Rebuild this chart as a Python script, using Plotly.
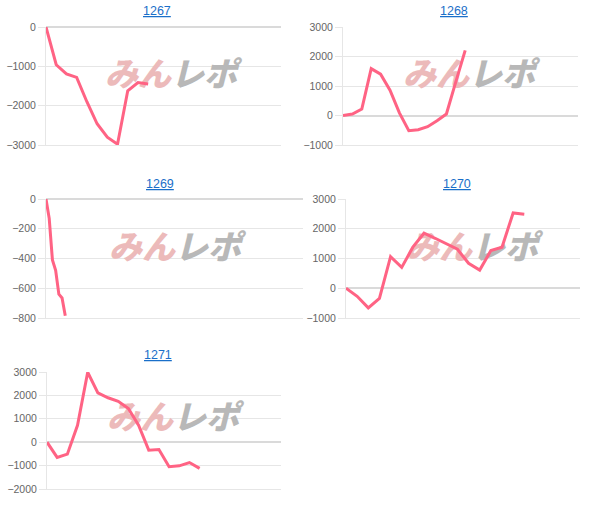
import plotly.graph_objects as go

W, H = 607, 516

# cumulative values per machine
titles = ['1267', '1268', '1269', '1270', '1271']
v1267 = [0, -960, -1190, -1280, -1900, -2460, -2800, -2980, -1620, -1410, -1450]
v1268 = [0, 50, 220, 1590, 1400, 860, 90, -515, -480, -380, -180, 50, 1140, 2210]
v1269 = [0, -130, -410, -480, -640, -665, -785]
v1270 = [0, -270, -660, -345, 1060, 700, 1380, 1850, 1680, 1490, 1310, 840, 610, 1265, 1380, 2530, 2490]
v1271 = [0, -650, -510, 725, 2990, 2110, 1900, 1750, 1440, 725, -340, -310, -1050, -1010, -870, -1120]
series = [v1267, v1268, v1269, v1270, v1271]

y_ranges = [[-3000, 0], [-1000, 3000], [-800, 0], [-1000, 3000], [-2000, 3000]]
y_dticks = [1000, 1000, 200, 1000, 1000]
x_ranges = [[0, 23], [0, 25], [0, 80], [0, 21], [0, 23]]

# plot areas in pixels: left, right, top, bottom
boxes = [(46, 281, 27, 145), (343, 578, 27, 145), (46, 303, 199, 318),
         (346, 580, 199, 318), (47, 281, 372, 489)]
title_pos = [(157, 11), (454, 11), (160, 184), (457, 184), (158, 355)]
logo_pos = [(171, 78), (469, 78), (175, 251), (472, 251), (173, 421)]

LINE = 'rgb(255,99,132)'
GRID = '#e6e6e6'
TICK = '#666666'
LINK = '#1a6fc9'


def px_to_data(px, py, box, xr, yr):
    l, r, t, b = box
    x = xr[0] + (px - l) / (r - l) * (xr[1] - xr[0])
    y = yr[1] - (py - t) / (b - t) * (yr[1] - yr[0])
    return x, y


fig = go.Figure()
layout = dict(width=W, height=H, margin=dict(l=0, r=0, t=0, b=0),
              paper_bgcolor='white', plot_bgcolor='rgba(0,0,0,0)',
              showlegend=False,
              font=dict(family='Liberation Sans, Arial, sans-serif', color=TICK, size=10.5))
annotations = []

for i, vals in enumerate(series):
    n = '' if i == 0 else str(i + 1)
    xa, ya = 'x' + n, 'y' + n
    l, r, t, b = boxes[i]

    # watermark, drawn first so the line stays on top
    lx, ly = px_to_data(logo_pos[i][0], logo_pos[i][1], boxes[i], x_ranges[i], y_ranges[i])
    fig.add_trace(go.Scatter(
        x=[lx], y=[ly], mode='text', xaxis=xa, yaxis=ya,
        text=['<span style="color:#ecbaba">みん</span><span style="color:#b8b8b8">レポ</span>'],
        textposition='middle center',
        textfont=dict(family='Noto Sans CJK JP', size=33, weight=900, style='italic'),
        hoverinfo='skip', cliponaxis=False,
    ))

    fig.add_trace(go.Scatter(
        x=list(range(len(vals))), y=vals, mode='lines', xaxis=xa, yaxis=ya,
        line=dict(color=LINE, width=3),
        hovertemplate='%{y}<extra></extra>',
    ))

    layout['xaxis' + n] = dict(
        domain=[l / W, r / W], range=x_ranges[i], anchor=ya, automargin=False,
        showgrid=False, zeroline=False, showticklabels=False,
        showline=True, linecolor=GRID, linewidth=1, fixedrange=True,
    )
    layout['yaxis' + n] = dict(
        domain=[1 - b / H, 1 - t / H], range=y_ranges[i], anchor=xa, automargin=False,
        dtick=y_dticks[i], tick0=0,
        gridcolor=GRID, gridwidth=1, zeroline=True, zerolinecolor='#dadada',
        zerolinewidth=1.5, showline=True, linecolor=GRID, linewidth=1,
        ticks='outside', ticklen=7, tickcolor=GRID,
        tickfont=dict(color=TICK, size=10.5), fixedrange=True,
    )

    annotations.append(dict(
        x=title_pos[i][0] / W, y=1 - title_pos[i][1] / H, xref='paper', yref='paper',
        text='<u>' + titles[i] + '</u>', showarrow=False,
        xanchor='center', yanchor='middle',
        font=dict(color=LINK, size=12.5, family='Liberation Sans, Arial, sans-serif'),
    ))

layout['annotations'] = annotations
fig.update_layout(**layout)

fig.write_html("out.html", config={'displayModeBar': False},
               post_script="document.body.style.margin='0';")
